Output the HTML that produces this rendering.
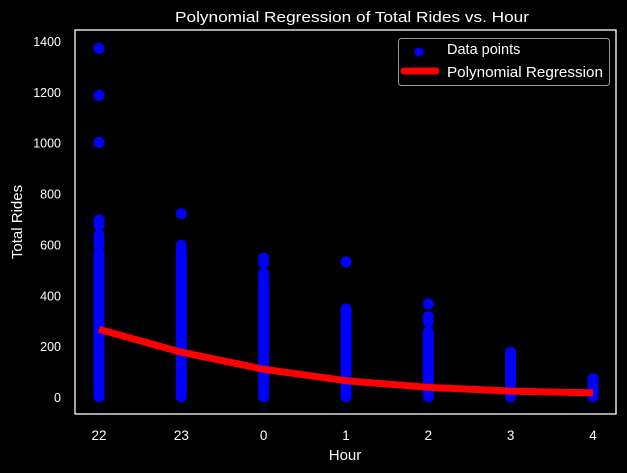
<!DOCTYPE html>
<html><head><meta charset="utf-8"><style>
body{margin:0;background:#000;}
svg{display:block;font-family:"Liberation Sans",sans-serif;}
</style></head><body>
<svg id="c" width="627" height="473"></svg>
<script>
const hours=["22","23","0","1","2","3","4"];
const colMin=[5,5,5,5,5,5,5];
const colMax=[570,580,490,350,260,180,75];
const outliers=[[600,620,640,680,700,1005,1190,1375],[600,725],[530,550],[535],[300,320,370],[],[]];
const regValues=[270,180,113,68,42,27,20];
const yTicks=[0,200,400,600,800,1000,1200,1400];
const NS="http://www.w3.org/2000/svg";
const svg=document.getElementById('c');
const L=75,T=30,R=616,B=414;
const xs=i=>99+i*82.33;
const ys=v=>398-v*(356/1400);
function mk(tag,a,p){const e=document.createElementNS(NS,tag);for(const k in a)e.setAttribute(k,a[k]);(p||svg).appendChild(e);return e;}
function tx(x,y,s,a,size,anchor){const e=mk('text',Object.assign({x:x,y:y,fill:'#fff','font-size':size||13,'text-anchor':anchor||'middle'},a||{}));e.textContent=s;return e;}
const t=tx(352,22,"Polynomial Regression of Total Rides vs. Hour",{textLength:354,lengthAdjust:"spacingAndGlyphs"},15);

yTicks.forEach(v=>{const e=tx(61,ys(v)+4,String(v),{},12.5,'end');
});
hours.forEach((h,i)=>{const e=tx(xs(i),440,h,{},13.5);
});
const xl=tx(345,460,"Hour",{},15);
const yl=tx(22,222,"Total Rides",{transform:"rotate(-90 22 222)"},15);
const g=mk('g',{});
hours.forEach((h,i)=>{
 const r=mk('rect',{x:xs(i)-5.5,y:ys(colMax[i])-5.5,width:11,height:ys(colMin[i])-ys(colMax[i])+11,rx:5.5,fill:'#0000ff'},g);
 
 outliers[i].forEach(v=>{const c=mk('circle',{cx:xs(i),cy:ys(v),r:5.5,fill:'#0000ff'},g);
 });
});
const p=mk('polyline',{points:regValues.map((v,i)=>xs(i)+','+ys(v)).join(' '),fill:'none',stroke:'#ff0000','stroke-width':7,'stroke-linejoin':'round'});

const ax=mk('rect',{x:L,y:T,width:R-L,height:B-T,fill:'none',stroke:'#fff','stroke-width':1.3});

const lg=mk('g',{});
mk('rect',{x:398.5,y:38.5,width:211,height:47,rx:3,fill:'#000',stroke:'#999'},lg);
mk('circle',{cx:419,cy:52,r:4.5,fill:'#0000ff'},lg);
mk('line',{x1:404,y1:71,x2:436,y2:71,stroke:'#ff0000','stroke-width':7,'stroke-linecap':'round'},lg);
const l1=tx(447,54,"Data points",{},14.5,'start');lg.appendChild(l1);
const l2=tx(447,77,"Polynomial Regression",{textLength:156,lengthAdjust:"spacingAndGlyphs"},14.5,'start');lg.appendChild(l2);
</script>
</body></html>
